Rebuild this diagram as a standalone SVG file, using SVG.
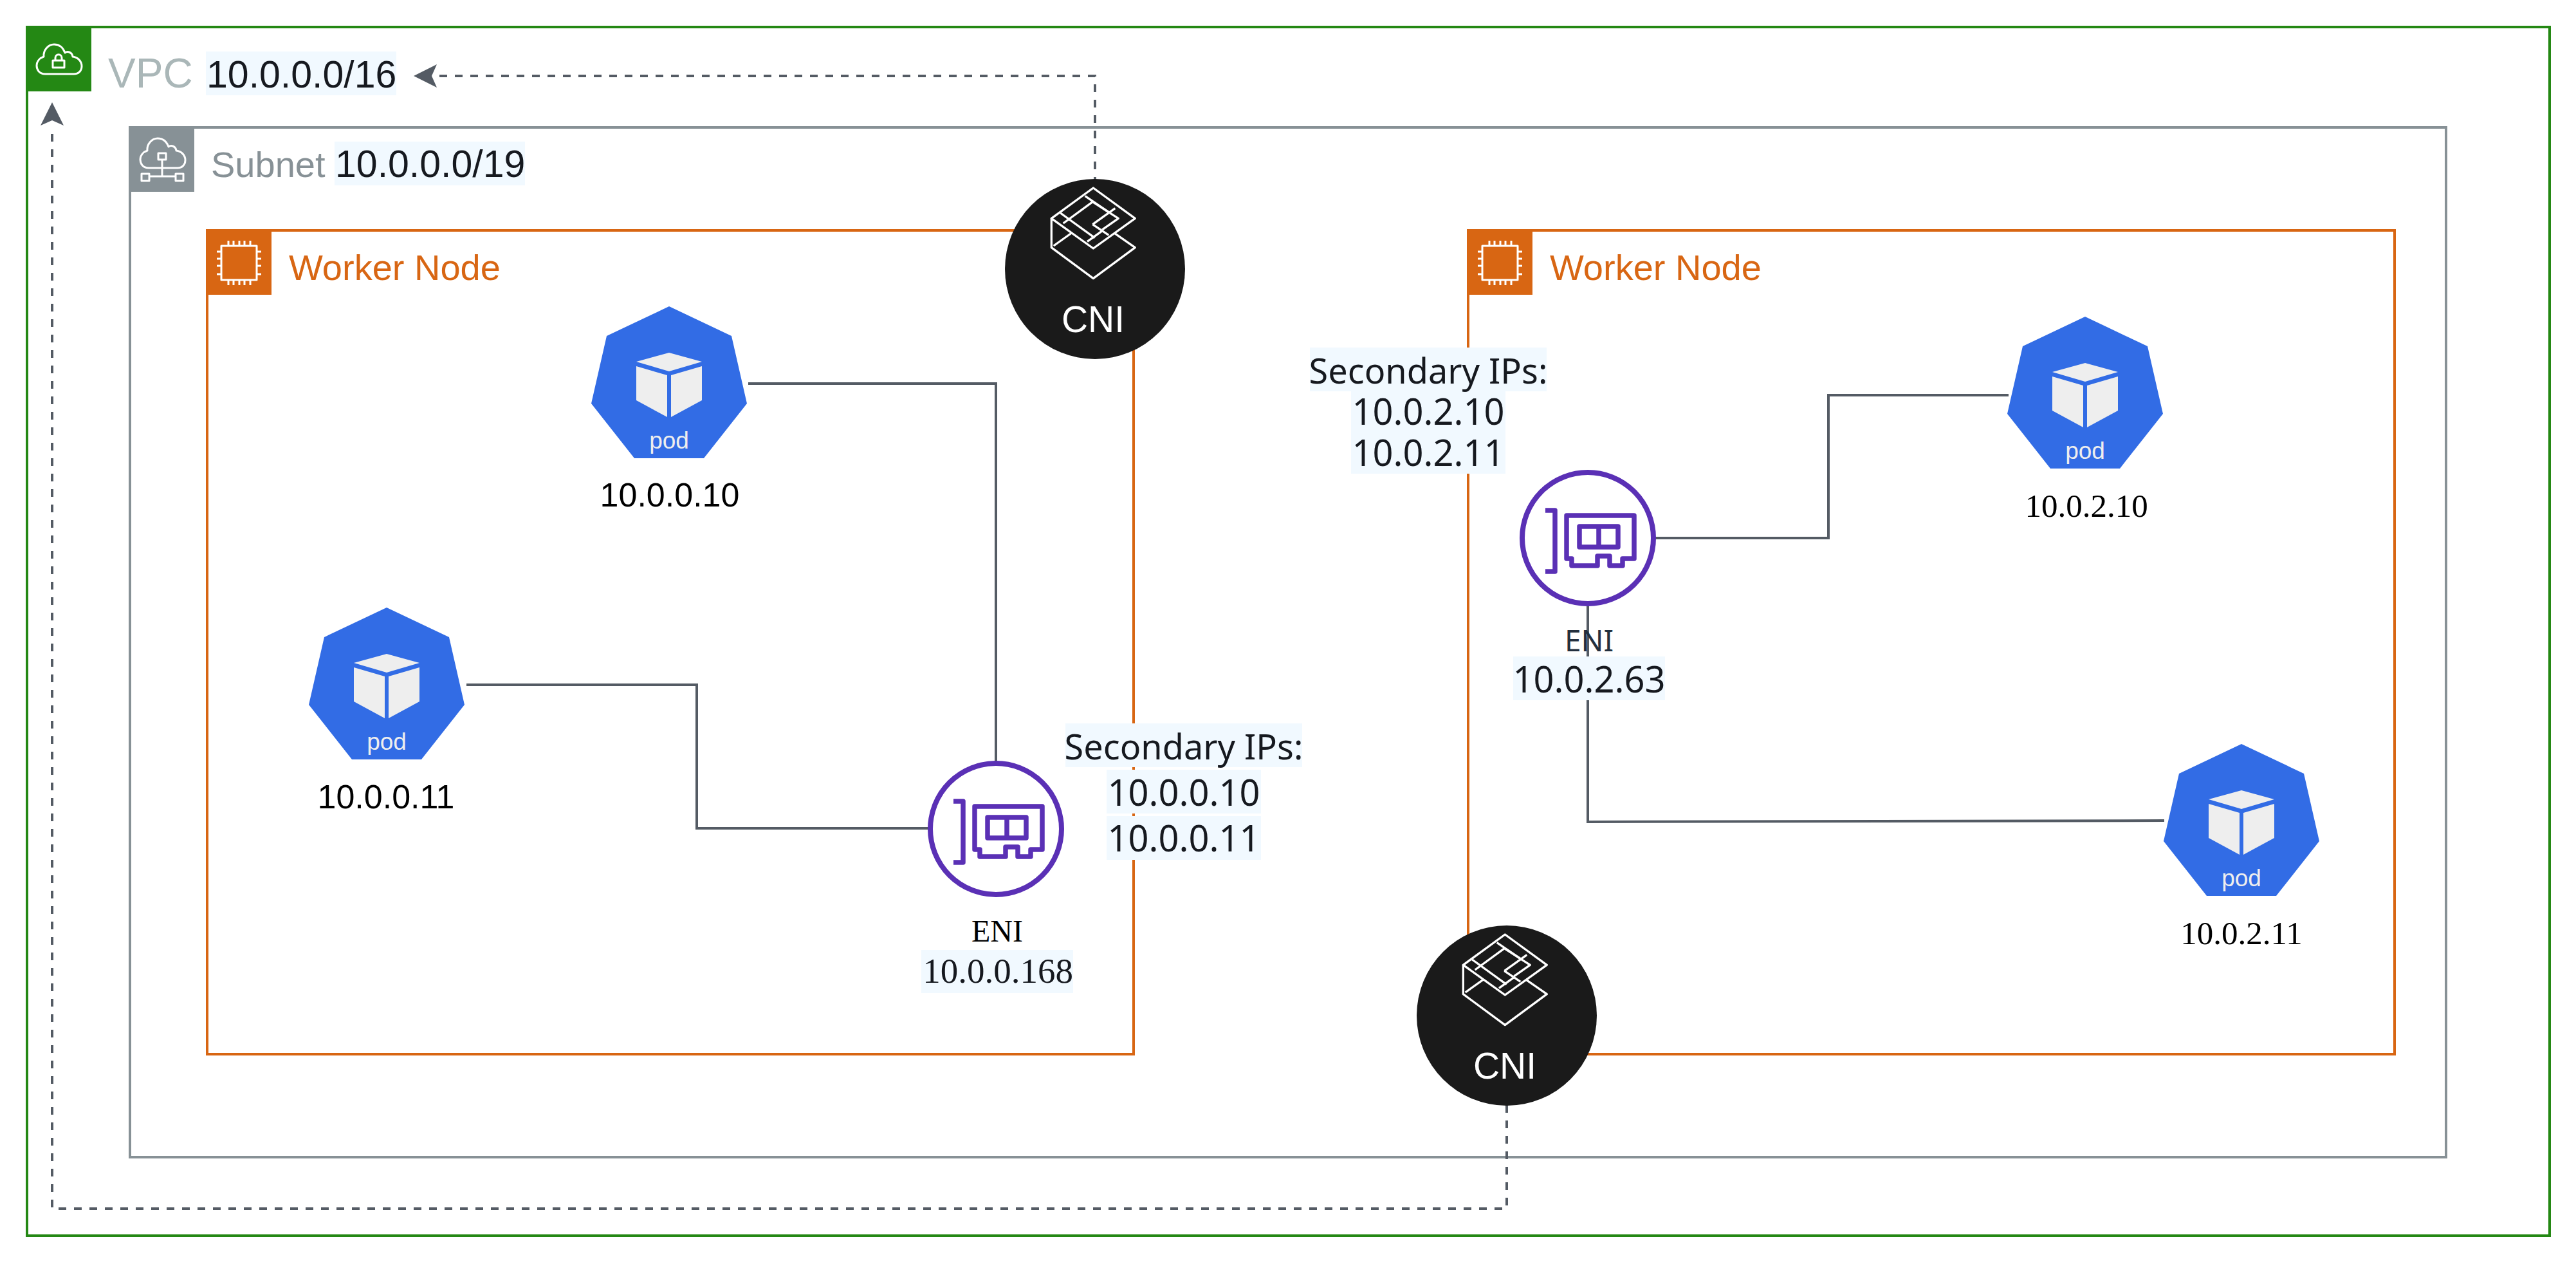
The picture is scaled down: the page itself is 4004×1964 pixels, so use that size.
<svg xmlns="http://www.w3.org/2000/svg" width="4004" height="1964" viewBox="0 0 4004 1964">
<style>
.box{fill:none;stroke-width:4}
.sans{font-family:"Liberation Sans",Arial,sans-serif}
.noto{font-family:"Noto Sans",sans-serif;fill:#16191f;font-size:56px;text-anchor:middle}
.noto.head{font-size:54px}
.serif{font-family:"Liberation Serif","Times New Roman",serif}
.hl{fill:#f1f9ff}
.wn{font-size:56px;fill:#d86613}
.ip{font-size:52px;fill:#000;text-anchor:middle}
.ips{font-size:51px;fill:#000;text-anchor:middle}
.cidr{font-size:59px;fill:#16191f}
.conn{fill:none;stroke:#545b64;stroke-width:4}
.dash{stroke-dasharray:12 12}
.ico{fill:none;stroke:#fff;stroke-width:3;stroke-linejoin:round}
</style>
<defs>
<g id="pod-shape">
<polygon points="0,0 97,46 121,151 54,236 -54,236 -121,151 -97,46" fill="#326ce5"/>
<g fill="#eee">
<polygon points="0,72 51,86 0,101 -51,86"/>
<polygon points="-51,93 -3,107 -3,172 -51,146"/>
<polygon points="3,107 51,93 51,146 3,172"/>
<text class="sans" x="0" y="221" font-size="37" text-anchor="middle">pod</text>
</g>
</g>
<g id="eni-shape">
<circle r="102" fill="#fff" stroke="#5a30b5" stroke-width="8"/>
<g fill="none" stroke="#5a30b5" stroke-width="7.5" stroke-linejoin="round">
<path d="M-66 -43H-51V52H-66"/>
<path d="M-33 -35H72V32H54V43H34V28H15V43H-25V32H-33Z"/>
<path d="M-13 -18H47V14H-13ZM17 -18V14"/>
</g>
</g>
<g id="cni-shape">
<circle r="140" fill="#1a1a1a"/>
<g transform="translate(-202 -177.67) scale(.3333)" fill="none" stroke="#fff" stroke-width="10" stroke-linejoin="round">
<polygon points="598,155 793,297 598,437 403,297"/>
<path d="M403 297V433L598 577L793 433L695 365"/>
<path d="M413 425L497 365"/>
<path d="M445 272L605 388"/>
<path d="M458 320L595 220L715 297L640 350"/>
<path d="M560 193L670 268"/>
<path d="M595 325L700 250"/>
<path d="M595 325L670 375"/>
<path d="M570 405L640 355"/>
</g>
<text class="sans" x="-3" y="98" font-size="57" fill="#fff" text-anchor="middle">CNI</text>
</g>
<g id="chip-shape">
<rect x="344" y="382" width="55" height="53" class="ico"/>
<path class="ico" d="M355 374V382M363 374V382M372 374V382M380 374V382M389 374V382M355 435V443M363 435V443M372 435V443M380 435V443M389 435V443M337 391H344M337 402H344M337 413H344M337 426H344M399 391H406M399 402H406M399 413H406M399 426H406"/>
</g>
<path id="cloud" d="M70 115C61 115 57 108 57 102C57 95 62 90 68 88C67 78 75 69 84 69C92 69 98 74 101 82C105 79 112 81 113 88C121 89 127 95 127 103C127 110 122 115 115 115Z"/>
</defs>
<rect width="4004" height="1964" fill="#fff"/>
<g id="vpc">
<rect class="box" x="42" y="42" width="3921" height="1878" stroke="#248814"/>
<rect x="40" y="40" width="102" height="102" fill="#248814"/>
<use href="#cloud" class="ico"/>
<path class="ico" d="M86 94V90C86 83 96 83 96 90V94M82 94H100V105H82Z"/>
<text class="sans" x="168" y="136" font-size="64" fill="#aab7b8">VPC</text>
<rect class="hl" x="320" y="80" width="296" height="68"/>
<text class="sans cidr" x="321" y="136">10.0.0.0/16</text>
</g>
<g id="subnet">
<rect class="box" x="202" y="198" width="3600" height="1600" stroke="#879196"/>
<rect x="200" y="196" width="102" height="102" fill="#879196"/>
<use href="#cloud" class="ico" transform="translate(161 146)"/>
<path class="ico" d="M246 238H258V248H246ZM252 248V274M232 274H273M220 270H232V281H220ZM273 270H285V281H273Z"/>
<text class="sans" x="328" y="275" font-size="56" fill="#879196">Subnet</text>
<rect class="hl" x="520" y="220" width="296" height="68"/>
<text class="sans cidr" x="521" y="275">10.0.0.0/19</text>
</g>
<g id="worker-node-1">
<rect class="box" x="322" y="358" width="1440" height="1280" stroke="#d86613"/>
<rect x="320" y="356" width="102" height="102" fill="#d86613"/>
<use href="#chip-shape"/>
<text class="sans wn" x="449" y="435">Worker Node</text>
</g>
<g id="worker-node-2">
<rect class="box" x="2282" y="358" width="1440" height="1280" stroke="#d86613"/>
<rect x="2280" y="356" width="102" height="102" fill="#d86613"/>
<use href="#chip-shape" x="1960"/>
<text class="sans wn" x="2409" y="435">Worker Node</text>
</g>
<g id="connectors">
<path class="conn" d="M1163 596H1548V1186"/>
<path class="conn" d="M725 1064H1083V1287H1446"/>
<path class="conn" d="M2570 836H2842V614H3122"/>
<path class="conn" d="M2468 938V1277L3364 1275"/>
<path class="conn dash" d="M1702 287V118H682"/>
<path d="M643 118L679 100L671 118L679 136Z" fill="#545b64"/>
<path class="conn dash" d="M2342 1717V1878H81V198"/>
<path d="M81 159L99 195L81 187L63 195Z" fill="#545b64"/>
</g>
<g id="pod-1"><use href="#pod-shape" x="1040" y="476"/><text class="sans ip" x="1041" y="787">10.0.0.10</text></g>
<g id="pod-2"><use href="#pod-shape" x="601" y="944"/><text class="sans ip" x="600" y="1256">10.0.0.11</text></g>
<g id="pod-3"><use href="#pod-shape" x="3241" y="492"/><text class="serif ips" x="3243" y="803">10.0.2.10</text></g>
<g id="pod-4"><use href="#pod-shape" x="3484" y="1156"/><text class="serif ips" x="3484" y="1467">10.0.2.11</text></g>
<g id="eni-1">
<use href="#eni-shape" x="1548" y="1288"/>
<text class="serif" x="1550" y="1463" font-size="48" fill="#000" text-anchor="middle">ENI</text>
<rect class="hl" x="1432" y="1476" width="236" height="67"/>
<text class="serif" x="1551" y="1527" font-size="55" fill="#16191f" text-anchor="middle">10.0.0.168</text>
</g>
<g id="eni-2">
<use href="#eni-shape" x="2468" y="836"/>
<text x="2470" y="1012" font-family="Noto Sans, sans-serif" font-size="46" fill="#232f3e" text-anchor="middle">ENI</text>
<rect class="hl" x="2352" y="1020" width="236" height="68"/>
<text class="noto" x="2470" y="1076">10.0.2.63</text>
</g>
<g id="secondary-ips-1">
<rect class="hl" x="1656" y="1124" width="368" height="68"/>
<rect class="hl" x="1720" y="1196" width="240" height="68"/>
<rect class="hl" x="1720" y="1268" width="240" height="68"/>
<text class="noto head" x="1840" y="1180">Secondary IPs:</text>
<text class="noto" x="1840" y="1252">10.0.0.10</text>
<text class="noto" x="1840" y="1323">10.0.0.11</text>
</g>
<g id="secondary-ips-2">
<rect class="hl" x="2036" y="540" width="368" height="68"/>
<rect class="hl" x="2100" y="608" width="240" height="128"/>
<text class="noto head" x="2220" y="596">Secondary IPs:</text>
<text class="noto" x="2220" y="660">10.0.2.10</text>
<text class="noto" x="2220" y="724">10.0.2.11</text>
</g>
<g id="cni-1"><use href="#cni-shape" x="1702" y="418"/></g>
<g id="cni-2"><use href="#cni-shape" x="2342" y="1578"/></g>
</svg>
